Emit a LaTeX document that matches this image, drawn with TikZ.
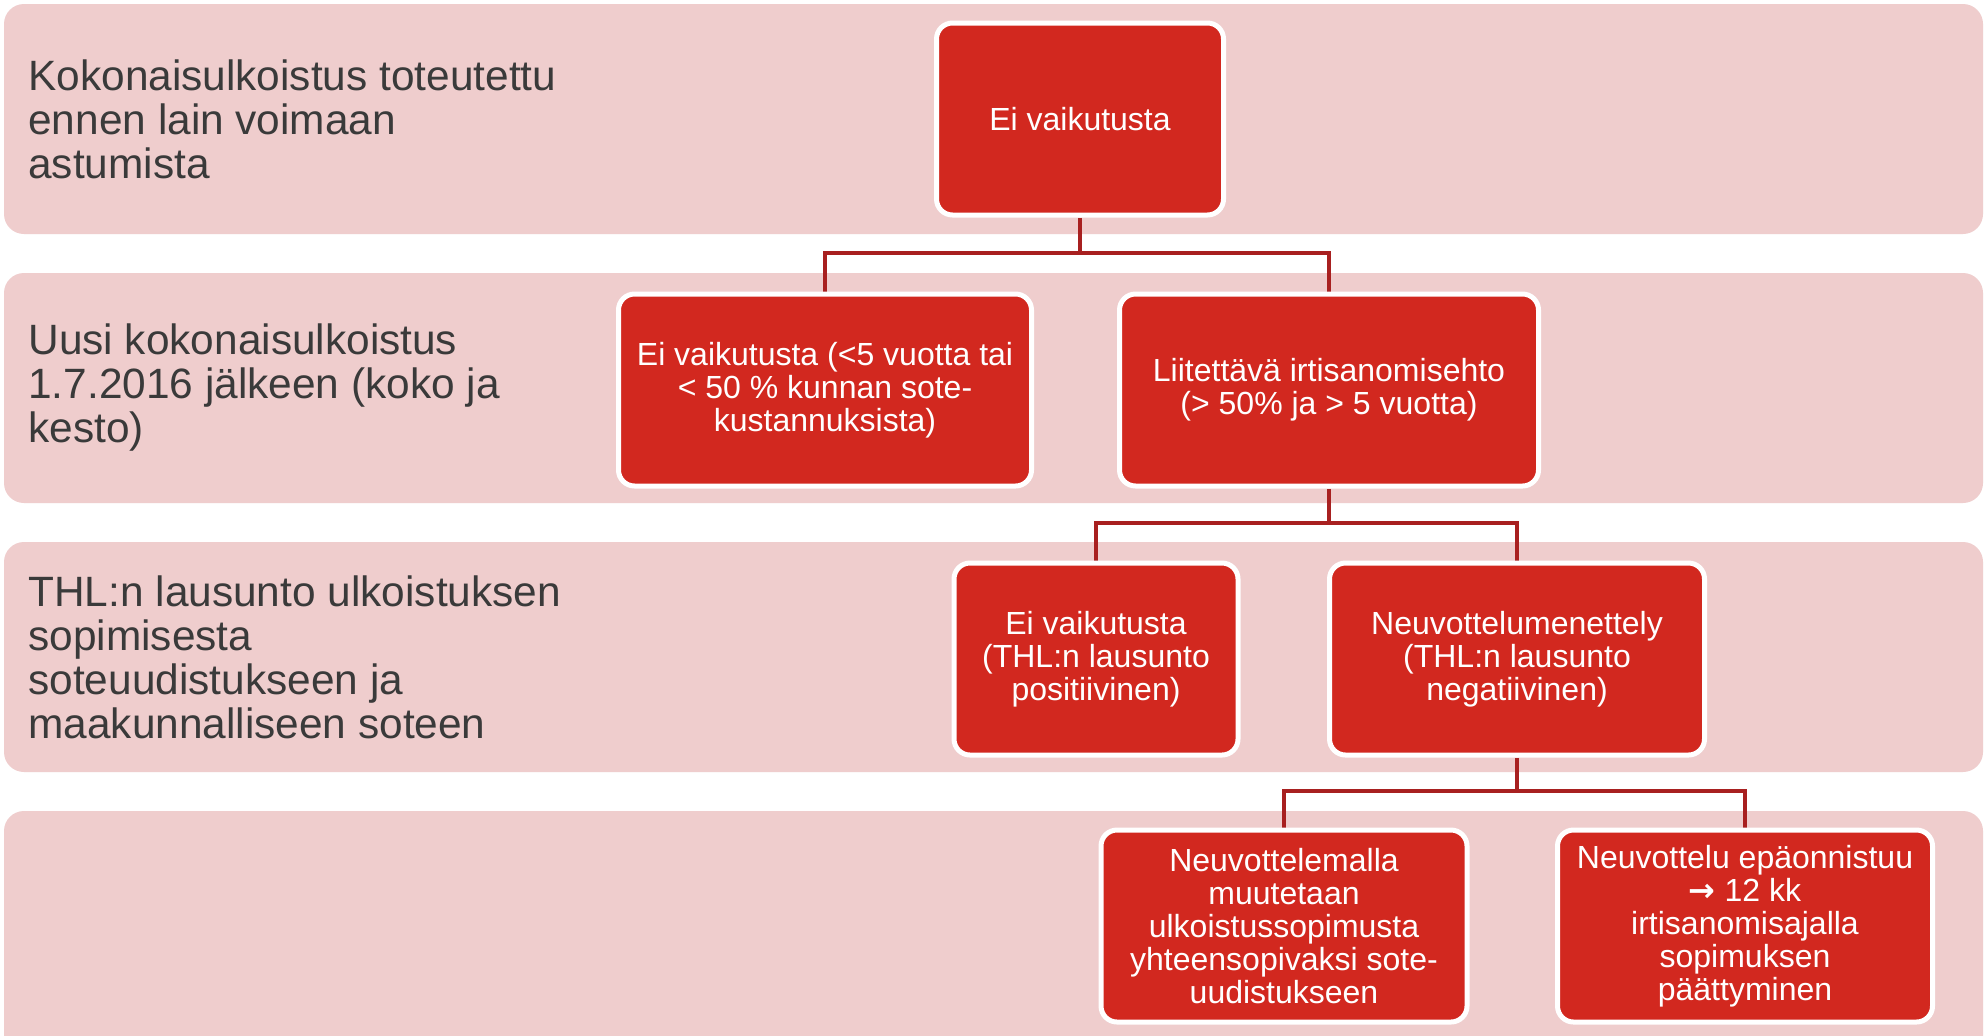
\documentclass[tikz,border=0pt]{standalone}
\usepackage{fontspec}
\setmainfont{Liberation Sans}
\newfontfamily\arrowfont{DejaVu Sans}
\usetikzlibrary{backgrounds}
\pgfdeclarelayer{back}
\pgfsetlayers{back,background,main}
\definecolor{bandpink}{HTML}{EFCDCD}
\definecolor{boxred}{HTML}{D2281F}
\definecolor{connred}{HTML}{A82020}
\definecolor{labelgray}{HTML}{3A3A3A}
\tikzset{
  band/.style={fill=bandpink, rounded corners=10pt},
  bandlabel/.style={anchor=west, align=left, text=labelgray, inner sep=0pt,
    font=\fontsize{21.2}{22}\selectfont},
  redbox/.style={fill=boxred, draw=white, line width=2.5pt, rounded corners=8pt,
    text=white, align=center, inner sep=0pt, minimum height=96pt,
    font=\fontsize{16}{16.5}\selectfont},
  conn/.style={draw=connred, line width=2.4pt}
}
\begin{document}
\begin{tikzpicture}[x=0.5pt,y=-0.5pt]
\clip (0,0) rectangle (1985,1035);
\begin{pgfonlayer}{back}
\fill[white] (0,0) rectangle (1985,1035);
\fill[band] (4,4) rectangle (1983,234);
\fill[band] (4,273) rectangle (1983,503);
\fill[band] (4,542) rectangle (1983,772);
\fill[band] (4,811) rectangle (1983,1060);
\end{pgfonlayer}
% labels
\node[bandlabel] (l1) at (28,119) {Kokonaisulkoistus toteutettu\\ennen lain voimaan\\astumista};
\node[bandlabel] (l2) at (28,388) {Uusi kokonaisulkoistus\\1.7.2016 jälkeen (koko ja\\kesto)};
\node[bandlabel] (l3) at (28,657) {THL:n lausunto ulkoistuksen\\sopimisesta\\soteuudistukseen ja\\maakunnalliseen soteen};
% boxes
\node[redbox, minimum width=143.5pt] (b1) at (1080,119) {Ei vaikutusta};
\node[redbox, minimum width=206.5pt] (b2a) at (825,390) {Ei vaikutusta (<5 vuotta tai\\< 50 \% kunnan sote-\\kustannuksista)};
\node[redbox, minimum width=209.5pt] (b2b) at (1329,390) {Liitettävä irtisanomisehto\\(> 50\% ja > 5 vuotta)};
\node[redbox, minimum width=142pt] (b3a) at (1096,659) {Ei vaikutusta\\(THL:n lausunto\\positiivinen)};
\node[redbox, minimum width=187.5pt] (b3b) at (1517,659) {Neuvottelumenettely\\(THL:n lausunto\\negatiivinen)};
\node[redbox, minimum width=183pt] (b4a) at (1284,926) {Neuvottelemalla\\muutetaan\\ulkoistussopimusta\\yhteensopivaksi sote-\\uudistukseen};
\node[redbox, minimum width=187.5pt] (b4b) at (1745,926) {Neuvottelu epäonnistuu\\{\arrowfont\bfseries →} 12 kk\\irtisanomisajalla\\sopimuksen\\päättyminen};
% connectors
\begin{scope}[on background layer]
\coordinate (j1) at (0,253);
\coordinate (j2) at (0,523);
\coordinate (j3) at (0,791);
\draw[conn] (b1.south) -- (b1.south |- j1) -| (b2a.north);
\draw[conn] (b1.south |- j1) -| (b2b.north);
\draw[conn] (b2b.south) -- (b2b.south |- j2) -| (b3a.north);
\draw[conn] (b2b.south |- j2) -| (b3b.north);
\draw[conn] (b3b.south) -- (b3b.south |- j3) -| (b4a.north);
\draw[conn] (b3b.south |- j3) -| (b4b.north);
\end{scope}
\end{tikzpicture}
\end{document}
